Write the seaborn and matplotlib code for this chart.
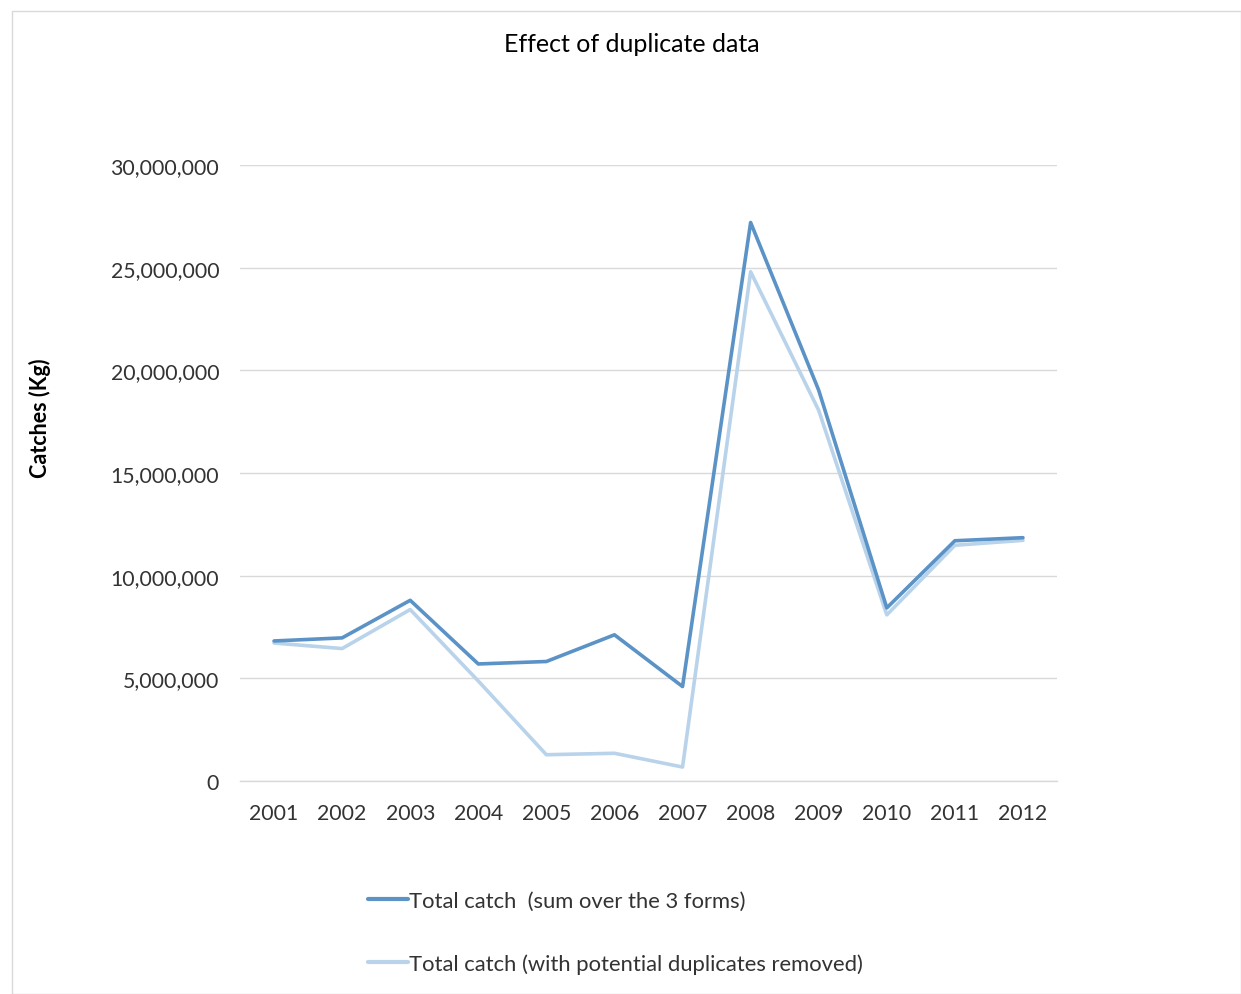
import numpy as np
import pandas as pd
import matplotlib
matplotlib.use("Agg")
import matplotlib.pyplot as plt
import seaborn as sns
from matplotlib.ticker import FuncFormatter, FixedLocator

years = ['2001', '2002', '2003', '2004', '2005', '2006', '2007', '2008', '2009', '2010', '2011', '2012']
total_catch = [6.82e6, 6.97e6, 8.80e6, 5.70e6, 5.82e6, 7.12e6, 4.60e6, 27.2e6, 19.03e6, 8.43e6, 11.70e6, 11.85e6]
dedup_catch = [6.72e6, 6.45e6, 8.35e6, 4.87e6, 1.28e6, 1.35e6, 0.68e6, 24.8e6, 18.05e6, 8.09e6, 11.48e6, 11.72e6]
series_names = ['Total catch  (sum over the 3 forms)', 'Total catch (with potential duplicates removed)']
colors = ['#5B93C7', '#B9D3EA']

df = pd.DataFrame({
    'idx': list(range(len(years))) * 2,
    'catch': total_catch + dedup_catch,
    'series': [series_names[0]] * len(years) + [series_names[1]] * len(years),
})

sns.set_style('white')
plt.rcParams['font.family'] = ['Lato', 'DejaVu Sans']

fig = plt.figure(figsize=(12.41, 9.95), dpi=100)
ax = fig.add_axes([240 / 1241, 1 - 782 / 995, (1057 - 240) / 1241, (782 - 166) / 995])

# light series first so the dark one sits on top
sns.lineplot(data=df, x='idx', y='catch', hue='series',
             palette=dict(zip(series_names, colors)),
             hue_order=series_names[::-1], linewidth=2.6, ax=ax, legend=False)

ax.set_xlim(-0.5, len(years) - 0.5)
ax.set_ylim(0, 30e6)
ax.set_yticks(np.arange(0, 30e6 + 1, 5e6))
ax.yaxis.set_major_formatter(FuncFormatter(lambda v, p: f'{int(v):,}'))
ax.set_xticks(range(len(years)))
ax.set_xticklabels(years)
ax.xaxis.set_minor_locator(FixedLocator(np.arange(-0.5, len(years), 1.0)))
ax.tick_params(axis='x', which='major', length=0, pad=16, labelsize=15.3, colors='#333333')
ax.tick_params(axis='x', which='minor', length=7, width=1, color='#D9D9D9', direction='out')
ax.tick_params(axis='y', length=0, pad=15, labelsize=15.3, colors='#333333')

ax.grid(axis='y', color='#D9D9D9', linewidth=1)
for s in ['top', 'right', 'left']:
    ax.spines[s].set_visible(False)
ax.spines['bottom'].set_color('#D9D9D9')
ax.spines['bottom'].set_linewidth(1)

ax.set_xlabel('')
ax.set_ylabel('')
fig.text(40 / 1241, 1 - 418 / 995, 'Catches (Kg)', rotation=90, fontsize=15.5, fontweight='bold',
         ha='center', va='center', color='#000000')
fig.text(632 / 1241, 1 - 45 / 995, 'Effect of duplicate data', fontsize=18, ha='center', va='center',
         color='#000000')

handles = [plt.Line2D([], [], color=c, linewidth=3) for c in colors]
fig.legend(handles, series_names, loc='upper left', bbox_to_anchor=(348 / 1241, 1 - 872 / 995),
           frameon=False, fontsize=15.8, handlelength=1.85, handletextpad=0.05, labelspacing=1.95,
           labelcolor='#333333')

# thin outer border
fig.patches.append(plt.Rectangle((12 / 1241, 0), 1 - 12 / 1241, 1 - 12 / 995, transform=fig.transFigure,
                                 fill=False, edgecolor='#D9D9D9', linewidth=1))

fig.savefig('out.png', dpi=100)
